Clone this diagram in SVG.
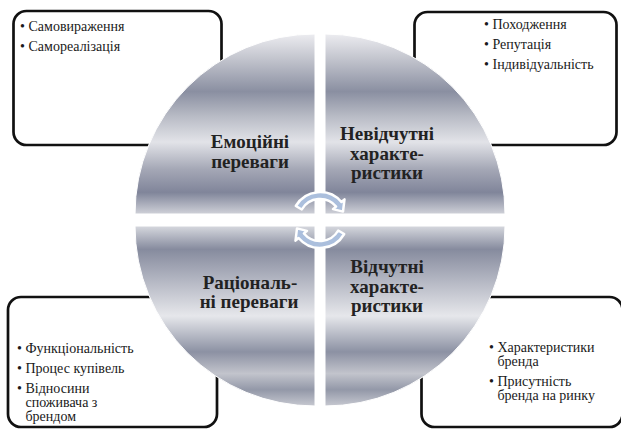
<svg xmlns="http://www.w3.org/2000/svg" width="621" height="431" viewBox="0 0 621 431">
<defs>
<linearGradient id="gTop" gradientUnits="userSpaceOnUse" x1="0" y1="34" x2="0" y2="214">
<stop offset="0" stop-color="#ececf0"/>
<stop offset="0.14" stop-color="#c2c4cd"/>
<stop offset="0.32" stop-color="#8a8fa1"/>
<stop offset="0.46" stop-color="#b9bcc6"/>
<stop offset="0.6" stop-color="#e2e3e8"/>
<stop offset="0.75" stop-color="#a5a8b6"/>
<stop offset="0.88" stop-color="#80859a"/>
<stop offset="1" stop-color="#cfd1d8"/>
</linearGradient>
<linearGradient id="gBot" gradientUnits="userSpaceOnUse" x1="0" y1="226" x2="0" y2="406">
<stop offset="0" stop-color="#d6d8de"/>
<stop offset="0.13" stop-color="#868b9e"/>
<stop offset="0.3" stop-color="#b3b6c2"/>
<stop offset="0.5" stop-color="#e6e7eb"/>
<stop offset="0.7" stop-color="#8c91a3"/>
<stop offset="0.82" stop-color="#c2c4cc"/>
<stop offset="0.91" stop-color="#9398a8"/>
<stop offset="1" stop-color="#c6c8d0"/>
</linearGradient>
<path id="arrowShape" d="M295.8,206 A28,28 0 0 1 341.4,202 L344.5,199.4 L343,211.6 L333,209.1 L336.1,206.5 A21,21 0 0 0 301.8,209.5 Z"/>
</defs>

<g id="box-tl" font-family="'Liberation Serif', 'DejaVu Serif', serif" font-size="14" fill="#1a1a1a">
<rect x="13.5" y="11" width="208" height="134" rx="13" fill="#fff" stroke="#111" stroke-width="2.7"/>
<text x="20" y="30.5">•</text><text x="28.5" y="30.5">Самовираження</text>
<text x="20" y="50.5">•</text><text x="28.5" y="50.5">Самореалізація</text>
</g>
<g id="box-tr" font-family="'Liberation Serif', 'DejaVu Serif', serif" font-size="14" fill="#1a1a1a">
<rect x="414.5" y="12" width="202" height="133" rx="13" fill="#fff" stroke="#111" stroke-width="2.7"/>
<text x="484" y="28.5">•</text><text x="492.5" y="28.5">Походження</text>
<text x="484" y="48.5">•</text><text x="492.5" y="48.5">Репутація</text>
<text x="484" y="68.5">•</text><text x="492.5" y="68.5">Індивідуальність</text>
</g>
<g id="box-bl" font-family="'Liberation Serif', 'DejaVu Serif', serif" font-size="14" fill="#1a1a1a">
<rect x="8" y="297" width="209" height="130" rx="13" fill="#fff" stroke="#111" stroke-width="2.7"/>
<text x="17" y="353">•</text><text x="25.5" y="353">Функціональність</text>
<text x="17" y="373">•</text><text x="25.5" y="373">Процес купівель</text>
<text x="17" y="393">•</text><text x="25.5" y="393">Відносини</text>
<text x="25.5" y="407">споживача з</text>
<text x="25.5" y="421">брендом</text>
</g>
<g id="box-br" font-family="'Liberation Serif', 'DejaVu Serif', serif" font-size="14" fill="#1a1a1a">
<rect x="421.5" y="297" width="201" height="130" rx="13" fill="#fff" stroke="#111" stroke-width="2.7"/>
<text x="489" y="352">•</text><text x="497.5" y="352">Характеристики</text>
<text x="497.5" y="366">бренда</text>
<text x="489" y="386">•</text><text x="497.5" y="386">Присутність</text>
<text x="497.5" y="400">бренда на ринку</text>
</g>

<g id="q-tl" font-family="'Liberation Serif', 'DejaVu Serif', serif" font-size="19" font-weight="bold" fill="#222" text-anchor="middle">
<path fill="url(#gTop)" stroke="#fff" d="M315,214 L135,214 A180,180 0 0 1 315,34 Z"/>
<text x="250" y="148">Емоційні</text>
<text x="250" y="167.5">переваги</text>
</g>
<g id="q-tr" font-family="'Liberation Serif', 'DejaVu Serif', serif" font-size="19" font-weight="bold" fill="#222" text-anchor="middle">
<path fill="url(#gTop)" stroke="#fff" d="M325,214 L325,34 A180,180 0 0 1 505,214 Z"/>
<text x="387" y="140">Невідчутні</text>
<text x="387" y="159.5">характе-</text>
<text x="387" y="179">ристики</text>
</g>
<g id="q-bl" font-family="'Liberation Serif', 'DejaVu Serif', serif" font-size="19" font-weight="bold" fill="#222" text-anchor="middle">
<path fill="url(#gBot)" stroke="#fff" d="M315,226 L315,406 A180,180 0 0 1 135,226 Z"/>
<text x="250" y="289">Раціональ-</text>
<text x="249" y="308">ні переваги</text>
</g>
<g id="q-br" font-family="'Liberation Serif', 'DejaVu Serif', serif" font-size="19" font-weight="bold" fill="#222" text-anchor="middle">
<path fill="url(#gBot)" stroke="#fff" d="M325,226 L505,226 A180,180 0 0 1 325,406 Z"/>
<text x="387" y="273">Відчутні</text>
<text x="387" y="292.5">характе-</text>
<text x="387" y="312">ристики</text>
</g>

<g id="connectors" fill="#abbfdd" stroke="#fff" stroke-width="2.5" stroke-linejoin="round">
<use href="#arrowShape"/>
<use href="#arrowShape" transform="rotate(180 320 220)"/>
</g>
</svg>
